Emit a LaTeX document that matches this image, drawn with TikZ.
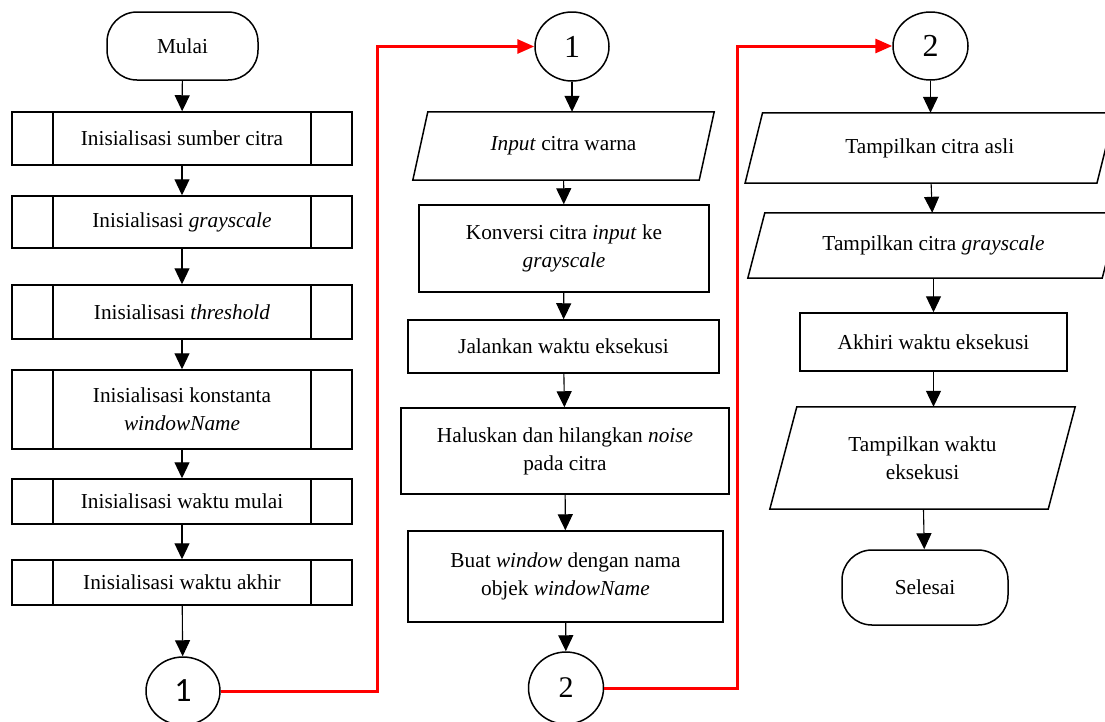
\documentclass[tikz,border=0pt]{standalone}
\usepackage{fontspec}
\setmainfont{Liberation Serif}
\newfontfamily\carlitofont{Carlito}
\usetikzlibrary{arrows.meta,shapes.geometric,calc}
\newcommand\drawio[2]{%
  \draw[line width=1.5pt] ([xshift=#2]#1.north west) -- ([xshift=#2]#1.north east)
    -- ([xshift=-#2]#1.south east) -- ([xshift=-#2]#1.south west) -- cycle;}
\begin{document}
\begin{tikzpicture}[x=1pt,y=-1pt,
  txt/.style={align=center, font=\fontsize{21.3}{28}\selectfont, inner sep=0pt},
  base/.style={txt, draw=black, line width=1.5pt},
  procbox/.style={base, rectangle},
  predef/.style={base, rectangle,
    path picture={\draw[line width=1.5pt]
      ([xshift=41pt]path picture bounding box.north west) -- ([xshift=41pt]path picture bounding box.south west)
      ([xshift=-41pt]path picture bounding box.north east) -- ([xshift=-41pt]path picture bounding box.south east);}},
  term/.style={base, rectangle, rounded corners=30pt},
  conn/.style={base, ellipse},
  flow/.style={-{Triangle[length=16pt,width=15pt]}, line width=1.1pt, black},
  jump/.style={-{Triangle[length=17pt,width=14pt]}, line width=3pt, red},
]
\useasboundingbox (0,0) rectangle (1105,721);
\fill[white] (0,0) rectangle (1105,721);

% left column
\node[term, minimum width=151pt, minimum height=68pt] (mulai) at (182.5,46) {Mulai};
\node[predef, minimum width=340pt, minimum height=53pt] (p1) at (182,138.5) {Inisialisasi sumber citra};
\node[predef, minimum width=340pt, minimum height=52pt] (p2) at (182,222) {Inisialisasi \textit{grayscale}};
\node[predef, minimum width=340pt, minimum height=54pt] (p3) at (182,312) {Inisialisasi \textit{threshold}};
\node[predef, minimum width=340pt, minimum height=79pt] (p4) at (182,409.5) {Inisialisasi konstanta\\\textit{windowName}};
\node[predef, minimum width=340pt, minimum height=45pt] (p5) at (182,501.5) {Inisialisasi waktu mulai};
\node[predef, minimum width=340pt, minimum height=45pt] (p6) at (182,582.5) {Inisialisasi waktu akhir};
\node[conn, minimum width=74pt, minimum height=68pt, font=\carlitofont\fontsize{34}{34}\selectfont] (c1b) at (183,691) {1};

% middle column
\node[conn, minimum width=74pt, minimum height=69pt, font=\fontsize{32}{32}\selectfont] (c1t) at (572,46.5) {1};
\node[txt, minimum width=286pt, minimum height=68pt] (in1) at (563.5,146) {\textit{Input} citra warna};
\drawio{in1}{7.5pt}
\node[procbox, minimum width=290pt, minimum height=87pt] (konv) at (564,248.5) {Konversi citra \textit{input} ke\\\textit{grayscale}};
\node[procbox, minimum width=311pt, minimum height=53pt] (jal) at (563.5,346.5) {Jalankan waktu eksekusi};
\node[procbox, minimum width=328pt, minimum height=86pt] (hal) at (565,451) {Haluskan dan hilangkan \textit{noise}\\pada citra};
\node[procbox, minimum width=315pt, minimum height=91pt] (buat) at (565.5,576.5) {Buat \textit{window} dengan nama\\objek \textit{windowName}};
\node[conn, minimum width=75pt, minimum height=72pt, font=\fontsize{30}{30}\selectfont] (c2b) at (566,688) {2};

% right column
\node[conn, minimum width=75pt, minimum height=68pt, font=\fontsize{32}{32}\selectfont] (c2t) at (930.5,46) {2};
\node[txt, minimum width=351.5pt, minimum height=70pt] (out1) at (929.75,148) {Tampilkan citra asli};
\drawio{out1}{8.75pt}
\node[txt, minimum width=354pt, minimum height=65pt] (out2) at (933.5,245.5) {Tampilkan citra \textit{grayscale}};
\drawio{out2}{8.5pt}
\node[procbox, minimum width=267pt, minimum height=58pt] (akh) at (933.5,342) {Akhiri waktu eksekusi};
\node[txt, minimum width=278pt, minimum height=102pt] (out3) at (922.5,458) {Tampilkan waktu\\eksekusi};
\drawio{out3}{13.5pt}
\node[term, minimum width=166pt, minimum height=75pt] (sel) at (925,587.5) {Selesai};

% flow arrows
\draw[flow] (mulai) -- (p1);
\draw[flow] (p1) -- (p2);
\draw[flow] (p2) -- (p3);
\draw[flow] (p3) -- (p4);
\draw[flow] (p4) -- (p5);
\draw[flow] (p5) -- (p6);
\draw[flow] (p6) -- (c1b);

\draw[flow] (c1t) -- (c1t |- in1.north);
\draw[flow] (in1) -- (konv);
\draw[flow] (konv) -- (jal);
\draw[flow] (jal) -- (hal);
\draw[flow] (hal) -- (buat);
\draw[flow] (buat) -- (c2b);

\draw[flow] (c2t) -- (c2t |- out1.north);
\draw[flow] (out1) -- (out2);
\draw[flow] (out2) -- (akh);
\draw[flow] (akh) -- (akh |- out3.north);
\draw[flow] (out3) -- (sel);

% off-page jumps
\coordinate (j1) at (377.5,46.5);
\coordinate (j2) at (737,46);
\draw[jump] (c1b.east) -| (j1) -- (c1t.west);
\draw[jump] (c2b.east) -| (j2) -- (c2t.west);
\end{tikzpicture}
\end{document}
